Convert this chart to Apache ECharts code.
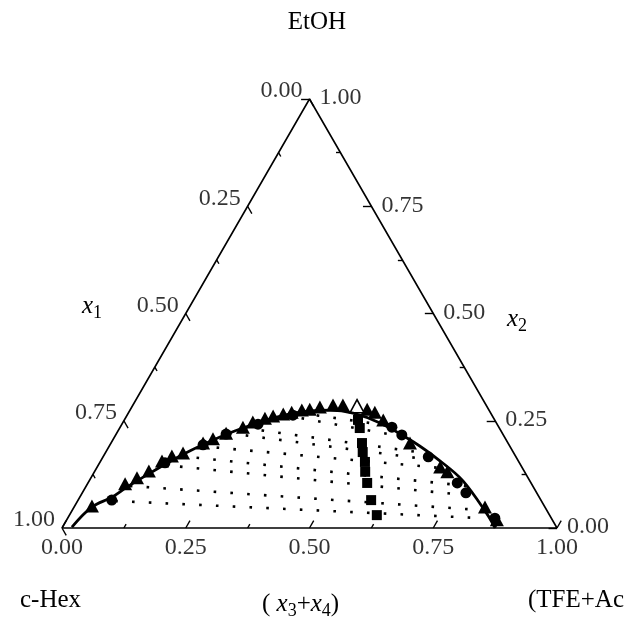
<!DOCTYPE html>
<html>
<head>
<meta charset="utf-8">
<script src="https://cdn.jsdelivr.net/npm/echarts@6/dist/echarts.min.js"></script>
<style>
  html, body { margin: 0; padding: 0; background: #fff; }
  #chart { width: 634px; height: 629px; }
</style>
</head>
<body>
<div id="chart"></div>
<script>
// Compositions are stored as [x3+x4, x2]; x1 = 1 - (x3+x4) - x2.

// Binodal curve (solid line)
const binodalCurve = [
  [0.019, 0.002], [0.036, 0.049], [0.065, 0.072], [0.084, 0.096], [0.114, 0.128],
  [0.145, 0.159], [0.169, 0.180], [0.203, 0.205], [0.224, 0.219], [0.249, 0.233],
  [0.288, 0.252], [0.328, 0.266], [0.365, 0.273], [0.404, 0.275], [0.454, 0.268],
  [0.520, 0.245], [0.609, 0.201], [0.686, 0.156], [0.755, 0.110], [0.842, 0.033],
  [0.875, 0.000]
];

// Filled triangles
const triangleData = [
  [0.035, 0.051], [0.076, 0.103], [0.093, 0.117], [0.109, 0.133], [0.124, 0.156],
  [0.138, 0.168], [0.157, 0.175], [0.186, 0.198], [0.201, 0.208], [0.221, 0.221],
  [0.248, 0.235], [0.262, 0.247], [0.282, 0.256], [0.296, 0.261], [0.314, 0.266],
  [0.329, 0.270], [0.347, 0.275], [0.362, 0.277], [0.380, 0.282], [0.404, 0.287],
  [0.424, 0.287],
  [0.478, 0.277], [0.497, 0.270], [0.523, 0.252], [0.604, 0.198], [0.693, 0.142],
  [0.713, 0.131], [0.830, 0.049], [0.869, 0.019]
];

// Filled circles
const circleData = [
  [0.068, 0.065], [0.132, 0.152], [0.188, 0.194], [0.222, 0.219], [0.275, 0.242],
  [0.335, 0.263],
  [0.549, 0.235], [0.578, 0.217], [0.657, 0.166], [0.746, 0.105], [0.775, 0.082],
  [0.863, 0.023]
];

// Open triangle
const openTriangleData = [[0.454, 0.284]];

// Filled squares
const squareData = [
  [0.472, 0.252], [0.485, 0.233], [0.507, 0.198], [0.519, 0.177], [0.535, 0.154],
  [0.547, 0.131], [0.564, 0.105], [0.592, 0.065], [0.621, 0.030]
];

// Tie lines: end compositions of the two conjugate phases
const tieLineLeft = [
  [0.347, 0.268], [0.319, 0.263], [0.253, 0.233], [0.227, 0.221], [0.183, 0.191],
  [0.154, 0.168], [0.131, 0.147], [0.088, 0.098], [0.076, 0.063]
];
const tieLineRight = [
  [0.544, 0.238], [0.587, 0.212], [0.657, 0.173], [0.686, 0.156], [0.715, 0.138],
  [0.769, 0.098], [0.793, 0.075], [0.823, 0.042], [0.837, 0.023]
];

// Axis ticks
const majorTicks = [0, 0.25, 0.5, 0.75, 1];
const minorTicks = [0.125, 0.375, 0.625, 0.875];
const tickLabels = ['0.00', '0.25', '0.50', '0.75', '1.00'];

const SQ = Math.sqrt(3) / 2;
// ternary [x3+x4, x2] -> cartesian on a unit-side triangle
const xy = (p) => [p[0] + p[1] / 2, p[1] * SQ];

const MAJOR_LEN = 0.017;
const MINOR_LEN = 0.009;

const frame = [[0, 0], [1, 0], [0, 1], [0, 0]].map(xy);

const tickSegs = [];
function addTicks(vals, len) {
  vals.forEach(v => {
    // bottom axis: x3+x4 = v, tick along constant x3+x4
    tickSegs.push({ coords: [xy([v, 0]), xy([v, len])] });
    // left axis: x1 = v, tick along constant x1
    tickSegs.push({ coords: [xy([0, 1 - v]), xy([len, 1 - v - len])] });
    // right axis: x2 = v, tick along constant x2
    tickSegs.push({ coords: [xy([1 - v, v]), xy([1 - v - len, v])] });
  });
}
addTicks(majorTicks, MAJOR_LEN);
addTicks(minorTicks, MINOR_LEN);

const tieSegs = tieLineLeft.map((a, i) => ({ coords: [xy(a), xy(tieLineRight[i])] }));

const FONT = '"Liberation Serif", "Times New Roman", serif';
const labelBase = { show: true, color: '#000', fontFamily: FONT, fontSize: 24 };

function labelSeries(points, labelCfg) {
  return {
    type: 'scatter',
    symbolSize: 0,
    silent: true,
    clip: false,
    data: points.map((p, i) => ({ value: xy(p), name: tickLabels[i] })),
    label: Object.assign({}, labelBase, { formatter: '{b}', position: [0, 0] }, labelCfg)
  };
}

const bottomPts = majorTicks.map(v => [v, 0]);
const leftPts = majorTicks.map(v => [0, 1 - v]);
const rightPts = majorTicks.map(v => [1 - v, v]);

const chart = echarts.init(document.getElementById('chart'), null, { renderer: 'canvas' });

const rich = {
  n: { fontFamily: FONT, fontSize: 25, color: '#000' },
  i: { fontFamily: FONT, fontSize: 25, fontStyle: 'italic', color: '#000' },
  s: { fontFamily: FONT, fontSize: 18, color: '#000', padding: [14, 0, 0, 0] }
};

const solid = { color: '#000', opacity: 1 };

chart.setOption({
  animation: false,
  backgroundColor: '#fff',
  grid: { left: 62, top: 99, width: 495, height: 429 },
  xAxis: { type: 'value', min: 0, max: 1, show: false },
  yAxis: { type: 'value', min: 0, max: SQ, show: false },
  series: [
    {
      type: 'lines', coordinateSystem: 'cartesian2d', silent: true, clip: false,
      data: tieSegs,
      lineStyle: { color: '#000', width: 2.6, type: [2.6, 14.2], cap: 'butt', opacity: 1 }
    },
    {
      type: 'line', data: frame, symbol: 'none', silent: true, clip: false,
      lineStyle: { color: '#000', width: 1.6 }
    },
    {
      type: 'lines', coordinateSystem: 'cartesian2d', silent: true, clip: false,
      data: tickSegs,
      lineStyle: { color: '#000', width: 1.4, opacity: 1 }
    },
    {
      type: 'line', data: binodalCurve.map(xy), symbol: 'none', smooth: 0.35, silent: true,
      lineStyle: { color: '#000', width: 2.8 }
    },
    {
      type: 'scatter', data: squareData.map(xy), symbol: 'rect', symbolSize: 10,
      itemStyle: solid
    },
    {
      type: 'scatter', data: circleData.map(xy), symbol: 'circle', symbolSize: 11,
      itemStyle: solid
    },
    {
      type: 'scatter', data: triangleData.map(xy), symbol: 'triangle', symbolSize: [14, 13],
      itemStyle: solid
    },
    {
      type: 'scatter', data: openTriangleData.map(xy), symbol: 'triangle', symbolSize: [14, 13],
      itemStyle: { color: '#fff', borderColor: '#000', borderWidth: 1.6, opacity: 1 }
    },
    labelSeries(bottomPts, { align: 'center', verticalAlign: 'middle', offset: [0, 20] }),
    labelSeries(leftPts, { align: 'right', verticalAlign: 'middle', offset: [-7, -8] }),
    labelSeries(rightPts, { align: 'left', verticalAlign: 'middle', offset: [10, -1] })
  ],
  graphic: [
    { type: 'text', left: 'center', top: 10, style: { text: 'EtOH', font: '25px ' + FONT, fill: '#000' } },
    { type: 'text', x: 82, y: 290, style: { text: '{i|x}{s|1}', rich: rich } },
    { type: 'text', x: 507, y: 303, style: { text: '{i|x}{s|2}', rich: rich } },
    { type: 'text', x: 20, y: 588, style: { text: 'c-Hex', font: '25px ' + FONT, fill: '#000' } },
    { type: 'text', x: 262, y: 588, style: { text: '{n|( }{i|x}{s|3}{n|+}{i|x}{s|4}{n|)}', rich: rich } },
    { type: 'text', x: 528, y: 588, style: { text: '(TFE+Ac', font: '25px ' + FONT, fill: '#000' } }
  ]
});
</script>
</body>
</html>
